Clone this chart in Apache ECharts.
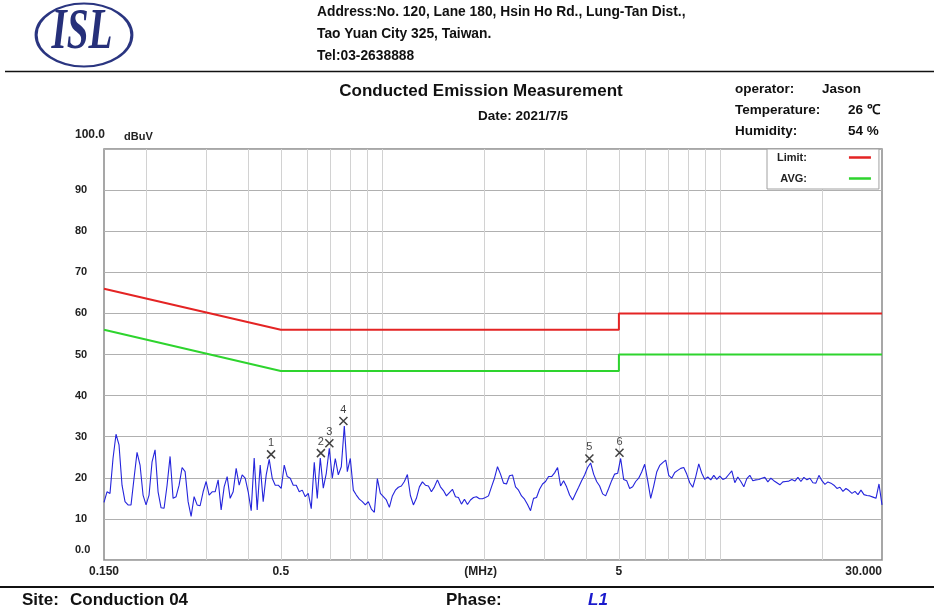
<!DOCTYPE html>
<html><head><meta charset="utf-8">
<script src="https://cdn.jsdelivr.net/npm/echarts@6/dist/echarts.min.js"></script>
<style>html,body{margin:0;padding:0;background:#fff}#c{width:934px;height:609px}</style>
</head><body><div id="c"></div><script>
// ---- data ----
const sweepStartMHz = 0.15;
const sweepStopMHz = 30;
const traceLevels = [
14.0,16.6,16.2,24.7,30.6,28.0,18.2,14.2,13.4,13.4,19.9,26.2,23.1,15.8,13.4,15.8,23.9,26.8,16.6,12.7,
12.6,18.2,25.2,15.0,15.4,18.2,22.5,21.5,14.2,10.6,15.4,13.4,13.2,16.6,19.1,15.8,16.6,16.6,19.5,12.2,
17.8,20.3,15.0,16.6,22.3,18.2,20.7,19.9,16.6,12.0,24.8,12.2,23.1,14.2,20.7,24.5,19.9,18.2,18.2,17.4,
23.1,20.3,19.9,18.2,18.2,16.6,17.0,15.4,16.2,12.5,23.8,15.0,24.8,17.5,21.1,27.2,19.9,24.7,20.7,22.7,
32.6,21.5,24.7,17.0,15.8,14.8,14.2,13.4,14.2,12.4,11.6,19.8,16.2,15.4,14.6,12.8,15.6,17.0,17.7,18.0,
19.1,20.8,15.7,13.4,15.0,17.8,19.0,18.2,18.0,16.6,17.8,19.5,17.8,16.9,15.6,16.4,17.2,15.4,15.2,13.6,
14.8,13.5,14.6,15.2,15.4,14.9,14.9,15.2,15.6,17.8,19.9,22.7,20.9,18.7,18.5,20.5,20.7,17.8,17.0,15.6,
14.8,13.5,12.0,15.0,15.2,17.2,18.5,19.1,20.3,20.3,21.2,22.5,18.0,19.3,17.8,15.8,14.6,16.2,17.7,19.3,
20.7,22.5,23.6,20.9,19.1,18.0,16.1,15.6,17.4,19.3,20.9,21.1,24.7,19.6,19.3,17.4,17.8,19.1,19.9,21.4,
23.3,19.3,15.0,18.0,21.4,23.0,23.7,24.3,20.6,19.9,21.3,21.8,22.3,22.5,20.9,18.8,17.7,20.3,23.4,21.1,
19.6,20.2,19.5,20.6,19.6,20.4,19.6,19.9,20.8,21.7,18.8,20.2,19.1,17.8,19.8,20.6,19.3,19.5,19.6,19.9,
20.1,19.0,19.9,19.3,18.8,18.3,19.0,19.1,19.2,19.6,19.2,20.1,19.1,20.1,19.5,19.9,18.8,18.7,20.6,19.3,
18.4,19.0,18.7,18.2,17.4,17.7,16.7,17.4,16.9,16.2,16.7,15.9,17.0,15.9,15.7,15.6,15.3,15.0,18.5,13.4
];
const limitFreqs = [0.15, 0.5, 5, 5, 30];
const limitQP = [66, 56, 56, 60, 60];
const limitAVG = [56, 46, 46, 50, 50];
const markerFreqs = [0.468, 0.657, 0.696, 0.766, 4.09, 5.02];
const markerLevels = [25.7, 26.0, 28.4, 33.8, 24.7, 26.1];
const markerLabels = ['1', '2', '3', '4', '5', '6'];
const xGridFreqs = [0.2, 0.3, 0.4, 0.5, 0.6, 0.7, 0.8, 0.9, 1, 2, 3, 4, 5, 6, 7, 8, 9, 10, 20];
const xLabelValues = [0.15, 0.5, 1.95, 5, 30];
const xLabelTexts = ['0.150', '0.5', '(MHz)', '5', '30.000'];

// sweep sample frequencies (receiver log sweep grid)
const sweepFreqs = traceLevels.map((_, i) => sweepStartMHz * Math.pow(sweepStopMHz / sweepStartMHz, i / (traceLevels.length - 1)));

const FF = '"Liberation Sans", Arial, sans-serif';
const chart = echarts.init(document.getElementById('c'), null, {renderer: 'canvas'});

function txt(x, y, text, size, extra) {
  return {
    type: 'text', x: x, y: y, silent: true,
    style: Object.assign({text: text, font: 'bold ' + size + 'px ' + FF, fill: '#111', verticalAlign: 'middle', align: 'left'}, extra || {})
  };
}
const lbl = {fontFamily: FF, fontWeight: 'bold', fontSize: 11, color: '#222'};

chart.setOption({
  animation: false,
  backgroundColor: '#fff',
  grid: {left: 104, right: 52, top: 149, bottom: 49, show: true, borderColor: '#8a8a8a', borderWidth: 1.5, backgroundColor: 'rgba(0,0,0,0)'},
  legend: {
    data: ['Limit:', 'AVG:'], orient: 'vertical', left: 767, top: 149, align: 'right',
    icon: 'path://M0,0h0.1v0.1h-0.1z M37,0h22v2.5h-22z', symbolKeepAspect: false,
    itemWidth: 59, itemHeight: 2.5, itemGap: 10, padding: [3, 8, 5, 10],
    borderColor: '#a0a0a0', borderWidth: 1, backgroundColor: '#fff', selectedMode: false,
    textStyle: {fontFamily: FF, fontWeight: 'bold', fontSize: 11, color: '#222'}
  },
  xAxis: {
    type: 'log', logBase: 10, min: 0.15, max: 30,
    axisLine: {show: false},
    axisTick: {show: false, customValues: xGridFreqs},
    splitLine: {show: true, lineStyle: {color: '#d2d2d2', width: 1}},
    axisLabel: {
      customValues: xLabelValues,
      formatter: function (v) {
        for (let k = 0; k < xLabelValues.length; k++) {
          if (Math.abs(Math.log(v / xLabelValues[k])) < 0.01) return xLabelTexts[k];
        }
        return '';
      },
      fontFamily: FF, fontWeight: 'bold', fontSize: 12, color: '#222', margin: 6,
      alignMaxLabel: 'right'
    }
  },
  yAxis: {
    type: 'value', min: 0, max: 100, interval: 10,
    axisLine: {show: false}, axisTick: {show: false},
    splitLine: {show: true, lineStyle: {color: '#b0b0b0', width: 1}},
    name: 'dBuV', nameLocation: 'end', nameGap: 7,
    nameTextStyle: {align: 'left', padding: [0, 0, 0, 20], fontFamily: FF, fontWeight: 'bold', fontSize: 11, color: '#222'},
    axisLabel: Object.assign({
      align: 'left', margin: 29,
      formatter: function (v) { return v === 0 ? '{lo|0.0}' : (v === 100 ? '{hi|100.0}' : String(v)); },
      rich: {lo: Object.assign({padding: [0, 0, 20, 0]}, lbl), hi: Object.assign({padding: [0, 0, 28, 0]}, lbl, {fontSize: 12})}
    }, lbl)
  },
  series: [
    {
      name: 'trace', type: 'line', showSymbol: false, silent: true, z: 3,
      data: sweepFreqs.map((f, i) => [f, traceLevels[i]]),
      lineStyle: {color: '#2424dc', width: 1.1}, itemStyle: {color: '#2424dc'}
    },
    {
      name: 'Limit:', type: 'line', showSymbol: false, silent: true, z: 4,
      data: limitFreqs.map((f, i) => [f, limitQP[i]]),
      lineStyle: {color: '#e42424', width: 2}, itemStyle: {color: '#e42424'}
    },
    {
      name: 'AVG:', type: 'line', showSymbol: false, silent: true, z: 4,
      data: limitFreqs.map((f, i) => [f, limitAVG[i]]),
      lineStyle: {color: '#2ed42e', width: 2}, itemStyle: {color: '#2ed42e'}
    },
    {
      name: 'markers', type: 'scatter', silent: true, z: 5,
      symbol: 'path://M0,0L10,10M10,0L0,10', symbolSize: 8,
      itemStyle: {color: 'rgba(0,0,0,0)', borderColor: '#111', borderWidth: 1.5},
      label: {show: true, position: 'top', distance: 1, formatter: p => markerLabels[p.dataIndex],
        fontFamily: FF, fontSize: 11, color: '#111'},
      data: markerFreqs.map((f, i) => [f, markerLevels[i]])
    }
  ],
  graphic: [
    {type: 'circle', x: 84, y: 35, scaleX: 1.52, silent: true,
      shape: {cx: 0, cy: 0, r: 31.5},
      style: {fill: '#fff', stroke: '#2a3580', lineWidth: 2, strokeNoScale: true}},
    {type: 'text', x: 82, y: 34, scaleX: 0.7, silent: true,
      style: {text: 'ISL', font: 'italic bold 56px "Liberation Serif", serif', fill: '#26307a', align: 'center', verticalAlign: 'middle'}},
    txt(317, 12, 'Address:No. 120, Lane 180, Hsin Ho Rd., Lung-Tan Dist.,', 13.8),
    txt(317, 34, 'Tao Yuan City 325, Taiwan.', 13.8),
    txt(317, 56, 'Tel:03-2638888', 13.8),
    {type: 'line', silent: true, shape: {x1: 5, y1: 71.5, x2: 934, y2: 71.5}, style: {stroke: '#111', lineWidth: 1.5}},
    txt(481, 91, 'Conducted Emission Measurement', 17, {align: 'center'}),
    txt(523, 116, 'Date: 2021/7/5', 13.5, {align: 'center'}),
    txt(735, 89, 'operator:', 13.5),
    txt(822, 89, 'Jason', 13.5),
    txt(735, 110, 'Temperature:', 13.5),
    txt(848, 110, '26 \u2103', 13.5),
    txt(735, 131, 'Humidity:', 13.5),
    txt(848, 131, '54 %', 13.5),
    {type: 'line', silent: true, shape: {x1: 0, y1: 587, x2: 934, y2: 587}, style: {stroke: '#111', lineWidth: 2}},
    txt(22, 600, 'Site:', 17),
    txt(70, 600, 'Conduction 04', 17),
    txt(446, 600, 'Phase:', 17),
    txt(588, 600, 'L1', 17, {font: 'italic bold 17px ' + FF, fill: '#1a1acc'})
  ]
});
</script></body></html>
